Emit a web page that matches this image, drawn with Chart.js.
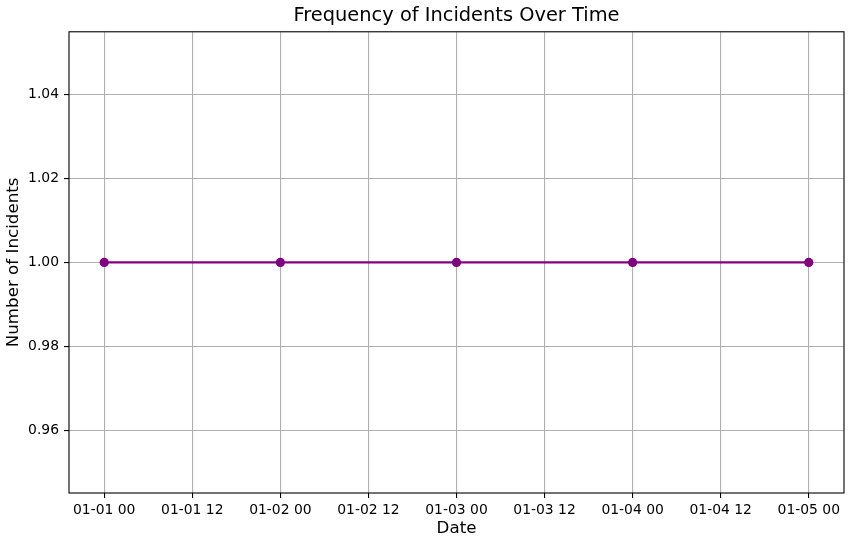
<!DOCTYPE html>
<html>
<head>
<meta charset="utf-8">
<script src="https://cdn.jsdelivr.net/npm/chart.js@4/dist/chart.umd.min.js"></script>
<style>
  html, body { margin: 0; padding: 0; background: #fff; }
  #wrap { width: 851px; height: 545px; }
</style>
</head>
<body>
<div id="wrap"><canvas id="incidentChart" width="851" height="545"></canvas></div>
<script>
// Incident counts per day
const dates = ['2023-01-01', '2023-01-02', '2023-01-03', '2023-01-04', '2023-01-05'];
const incidents = [1, 1, 1, 1, 1];

// Tick positions (hours since first date) and y ticks
const xTickHours = [0, 12, 24, 36, 48, 60, 72, 84, 96];
const yTicks = [0.96, 0.98, 1.00, 1.02, 1.04];

const startTime = new Date(dates[0] + 'T00:00:00').getTime();
const hoursOf = d => (new Date(d + 'T00:00:00').getTime() - startTime) / 3600000;

function formatTick(h) {
  const d = new Date(startTime + h * 3600000);
  const mm = String(d.getMonth() + 1).padStart(2, '0');
  const dd = String(d.getDate()).padStart(2, '0');
  const hh = String(d.getHours()).padStart(2, '0');
  return `${mm}-${dd} ${hh}`;
}

// draw full black frame around the plot area
const framePlugin = {
  id: 'frame',
  afterDraw(chart) {
    const { ctx, chartArea: a } = chart;
    ctx.save();
    ctx.strokeStyle = '#000';
    ctx.lineWidth = 1.1;
    ctx.strokeRect(a.left, a.top, a.right - a.left, a.bottom - a.top);
    ctx.restore();
  }
};

const FONT = 'DejaVu Sans';
const gridColor = '#b0b0b0';

new Chart(document.getElementById('incidentChart'), {
  type: 'line',
  data: {
    datasets: [{
      data: dates.map((d, i) => ({ x: hoursOf(d), y: incidents[i] })),
      borderColor: '#800080',
      backgroundColor: '#800080',
      borderWidth: 2.1,
      pointRadius: 4.6,
      pointHoverRadius: 4.6,
      pointBorderWidth: 0,
      tension: 0
    }]
  },
  options: {
    responsive: false,
    animation: false,
    devicePixelRatio: 1,
    layout: { padding: { left: 0, right: 7, top: 0, bottom: 0 } },
    plugins: {
      legend: { display: false },
      tooltip: { enabled: false },
      title: {
        display: true,
        fullSize: false,
        text: 'Frequency of Incidents Over Time',
        color: '#000',
        font: { family: FONT, size: 19.4, weight: 'normal', lineHeight: 1.2 },
        padding: { top: 4, bottom: 4.5 }
      }
    },
    scales: {
      x: {
        type: 'linear',
        min: -4.8,
        max: 100.8,
        afterBuildTicks: s => { s.ticks = xTickHours.map(v => ({ value: v })); },
        afterFit: s => { s.height = 52; },
        ticks: {
          color: '#000',
          font: { family: FONT, size: 13.9 },
          padding: 4,
          maxRotation: 0,
          autoSkip: false,
          callback: v => formatTick(v)
        },
        grid: { color: gridColor, lineWidth: 1.1, tickColor: '#000', tickLength: 5, tickWidth: 1.1 },
        border: { display: false },
        title: {
          display: true,
          text: 'Date',
          color: '#000',
          font: { family: FONT, size: 16.7, lineHeight: 1.2 },
          padding: { top: 0, bottom: 6 }
        }
      },
      y: {
        min: 0.945,
        max: 1.055,
        afterBuildTicks: s => { s.ticks = yTicks.map(v => ({ value: v })); },
        afterFit: s => { s.width = 69; },
        ticks: {
          color: '#000',
          font: { family: FONT, size: 13.9 },
          padding: 5,
          callback: v => v.toFixed(2)
        },
        grid: { color: gridColor, lineWidth: 1.1, tickColor: '#000', tickLength: 5, tickWidth: 1.1 },
        border: { display: false },
        title: {
          display: true,
          text: 'Number of Incidents',
          color: '#000',
          font: { family: FONT, size: 16.7, lineHeight: 1.2 },
          padding: { top: 4, bottom: 0 }
        }
      }
    }
  },
  plugins: [framePlugin]
});
</script>
</body>
</html>
